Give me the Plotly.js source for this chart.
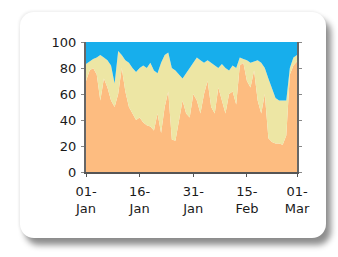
<!DOCTYPE html>
<html>
<head>
<meta charset="utf-8">
<script src="https://cdn.plot.ly/plotly-3.0.1.min.js"></script>
<style>
  html, body { margin:0; padding:0; background:#ffffff; width:338px; height:257px; overflow:hidden; }
  #card { position:absolute; left:20px; top:12px; width:306px; height:226px; background:#ffffff;
          border-radius:14px; box-shadow: 5px 7px 6px rgba(0,0,0,0.45), -1px -1px 3px rgba(0,0,0,0.08); }
  #chart { position:absolute; left:0; top:0; width:338px; height:257px; }
</style>
</head>
<body>
<div id="card"></div>
<div id="chart"></div>
<script>
// Daily shares (%) from 01-Jan to 01-Mar
const startDate = '2013-01-01';
const orangeVals = [70,78,80,75,55,72,65,55,50,60,80,62,50,45,40,42,38,36,35,32,
                    45,30,50,62,25,24,40,55,45,42,60,55,45,60,70,50,45,65,55,45,
                    60,62,52,82,84,70,65,78,55,45,60,26,23,22,22,21,28,75,82,85];
const yellowVals = [13,7,7,13,35,16,21,27,18,33,10,24,34,35,37,38,44,44,49,46,
                    31,54,40,30,55,54,35,17,31,38,25,33,41,24,16,34,37,15,28,35,
                    18,20,28,6,3,16,19,7,31,39,20,46,41,35,33,34,27,5,6,5];
const blueVals   = [17,15,13,12,10,12,14,18,32,7,10,14,16,20,23,20,18,20,16,22,
                    24,16,10,8,20,22,25,28,24,20,15,12,14,16,14,16,18,20,17,20,
                    22,18,20,12,13,14,16,15,14,16,20,28,36,43,45,45,45,20,12,10];
const tickDates = ['2013-01-01','2013-01-16','2013-01-31','2013-02-15','2013-03-01'];
const tickLabels = ['01-<br>Jan','16-<br>Jan','31-<br>Jan','15-<br>Feb','01-<br>Mar'];

const dates = [];
const d0 = new Date(startDate + 'T00:00:00Z');
for (let i = 0; i < orangeVals.length; i++) {
  const d = new Date(d0.getTime() + i * 86400000);
  dates.push(d.toISOString().slice(0,10));
}

function layer(vals, color, name) {
  return { x: dates, y: vals, name: name, type: 'scatter', mode: 'lines',
           stackgroup: 'one', line: { width: 0, shape: 'linear' },
           fillcolor: color, hoverinfo: 'skip' };
}

const data = [
  layer(orangeVals, '#FDBC80', 'A'),
  layer(yellowVals, '#EDE6A4', 'B'),
  layer(blueVals, '#17AEEC', 'C')
];

const font = { family: 'DejaVu Sans, sans-serif', size: 13, color: '#1a1a1a' };

const layout = {
  width: 338, height: 257,
  margin: { l: 86, r: 41, t: 42, b: 85, pad: 0 },
  paper_bgcolor: 'rgba(0,0,0,0)', plot_bgcolor: 'rgba(0,0,0,0)',
  showlegend: false,
  font: font,
  xaxis: {
    type: 'date', range: ['2013-01-01', '2013-03-01'],
    tickvals: tickDates, ticktext: tickLabels,
    showgrid: false, zeroline: false,
    showline: true, linecolor: '#555555', linewidth: 2,
    ticks: 'outside', ticklen: 3, tickcolor: '#555555',
    ticklabelstandoff: 3,
    tickfont: font
  },
  yaxis: {
    range: [0, 100], tickvals: [0,20,40,60,80,100],
    showgrid: false, zeroline: false,
    showline: true, linecolor: '#666666', linewidth: 2,
    mirror: 'ticks', ticks: 'outside', ticklen: 3, tickcolor: '#888888',
    ticklabelstandoff: 2,
    tickfont: font
  }
};

Plotly.newPlot('chart', data, layout, { displayModeBar: false, staticPlot: true });
</script>
</body>
</html>
